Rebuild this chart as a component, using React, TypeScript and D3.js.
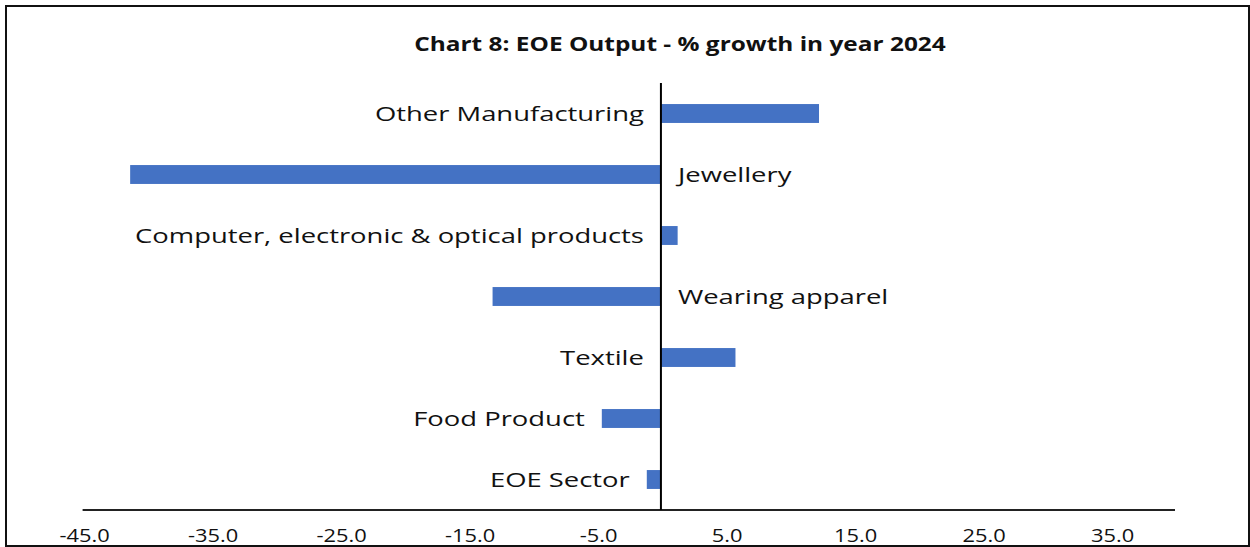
import React, { useRef, useEffect } from 'react'
import { select, scaleLinear, scaleBand, range } from 'd3'

// categories top to bottom
const categories = [
    'Other Manufacturing',
    'Jewellery',
    'Computer, electronic & optical products',
    'Wearing apparel',
    'Textile',
    'Food Product',
    'EOE Sector',
]
const growth = [12.3, -41.3, 1.3, -13.1, 5.8, -4.6, -1.1]
// which side of the bar the category name sits on
const labelSide = ['left', 'right', 'left', 'right', 'left', 'left', 'left']
const xTicks = range(-45, 36, 10)
const title = 'Chart 8: EOE Output - % growth in year 2024'

export default function App() {
    const svgRef = useRef<SVGSVGElement>(null)
    const width = 1250
    const height = 547
    const plot = { left: 82.6, right: 1175, top: 83, bottom: 510 }
    const font = '"Open Sans", sans-serif'
    const stretch = 1.37

    useEffect(() => {
        const svg = select(svgRef.current)
        svg.selectAll('*').remove()

        const x = scaleLinear().domain([-45, 40]).range([plot.left, plot.right])
        const y = scaleBand()
            .domain(categories)
            .range([plot.top, plot.bottom])
            .paddingInner(0.69)
            .paddingOuter(0.345)

        const data = categories.map((name, i) => ({ name, value: growth[i], side: labelSide[i] }))

        // outer frame
        svg.append('rect')
            .attr('x', 6).attr('y', 6)
            .attr('width', 1243).attr('height', 540)
            .attr('fill', '#fff')
            .attr('stroke', '#111')
            .attr('stroke-width', 2)

        const titleText = svg.append('text')
            .attr('x', 680)
            .attr('y', 51)
            .attr('text-anchor', 'middle')
            .attr('font-family', font)
            .attr('font-weight', 'bold')
            .attr('font-size', 20)
            .attr('fill', '#111')
            .text(title)
        const tn = titleText.node() as SVGTextElement
        tn.setAttribute('textLength', String(tn.getComputedTextLength() * 1.22))
        tn.setAttribute('lengthAdjust', 'spacingAndGlyphs')

        svg.append('g')
            .selectAll('rect')
            .data(data)
            .join('rect')
            .attr('x', d => x(Math.min(0, d.value)))
            .attr('y', d => y(d.name)!)
            .attr('width', d => Math.abs(x(d.value) - x(0)))
            .attr('height', y.bandwidth())
            .attr('fill', '#4472C4')

        // category names
        const gap = 17
        const labels = svg.append('g')
            .selectAll('text')
            .data(data)
            .join('text')
            .attr('x', d => d.side === 'left' ? x(Math.min(0, d.value)) - gap : x(0) + gap)
            .attr('y', d => y(d.name)! + y.bandwidth() / 2)
            .attr('dy', '0.35em')
            .attr('text-anchor', d => d.side === 'left' ? 'end' : 'start')
            .attr('font-family', font)
            .attr('font-size', 20)
            .attr('fill', '#111')
            .text(d => d.name)
        labels.each(function () {
            const t = this as SVGTextElement
            t.setAttribute('textLength', String(t.getComputedTextLength() * stretch))
            t.setAttribute('lengthAdjust', 'spacingAndGlyphs')
        })

        // x axis
        svg.append('line')
            .attr('x1', plot.left).attr('x2', plot.right)
            .attr('y1', plot.bottom).attr('y2', plot.bottom)
            .attr('stroke', '#222')
            .attr('stroke-width', 2)

        const ticks = svg.append('g')
            .selectAll('text')
            .data(xTicks)
            .join('text')
            .attr('x', d => x(d) + 2)
            .attr('y', 542)
            .attr('text-anchor', 'middle')
            .attr('font-family', font)
            .attr('font-size', 19)
            .attr('fill', '#111')
            .text(d => d.toFixed(1))
        ticks.each(function () {
            const t = this as SVGTextElement
            t.setAttribute('textLength', String(t.getComputedTextLength() * 1.15))
            t.setAttribute('lengthAdjust', 'spacingAndGlyphs')
        })

        // zero line
        svg.append('line')
            .attr('x1', x(0)).attr('x2', x(0))
            .attr('y1', plot.top).attr('y2', plot.bottom)
            .attr('stroke', '#000')
            .attr('stroke-width', 2)
    }, [])

    return (
        <svg
            ref={svgRef}
            width={width}
            height={height}
            style={{ position: 'absolute', left: 0, top: 0, display: 'block' }}
        />
    )
}
